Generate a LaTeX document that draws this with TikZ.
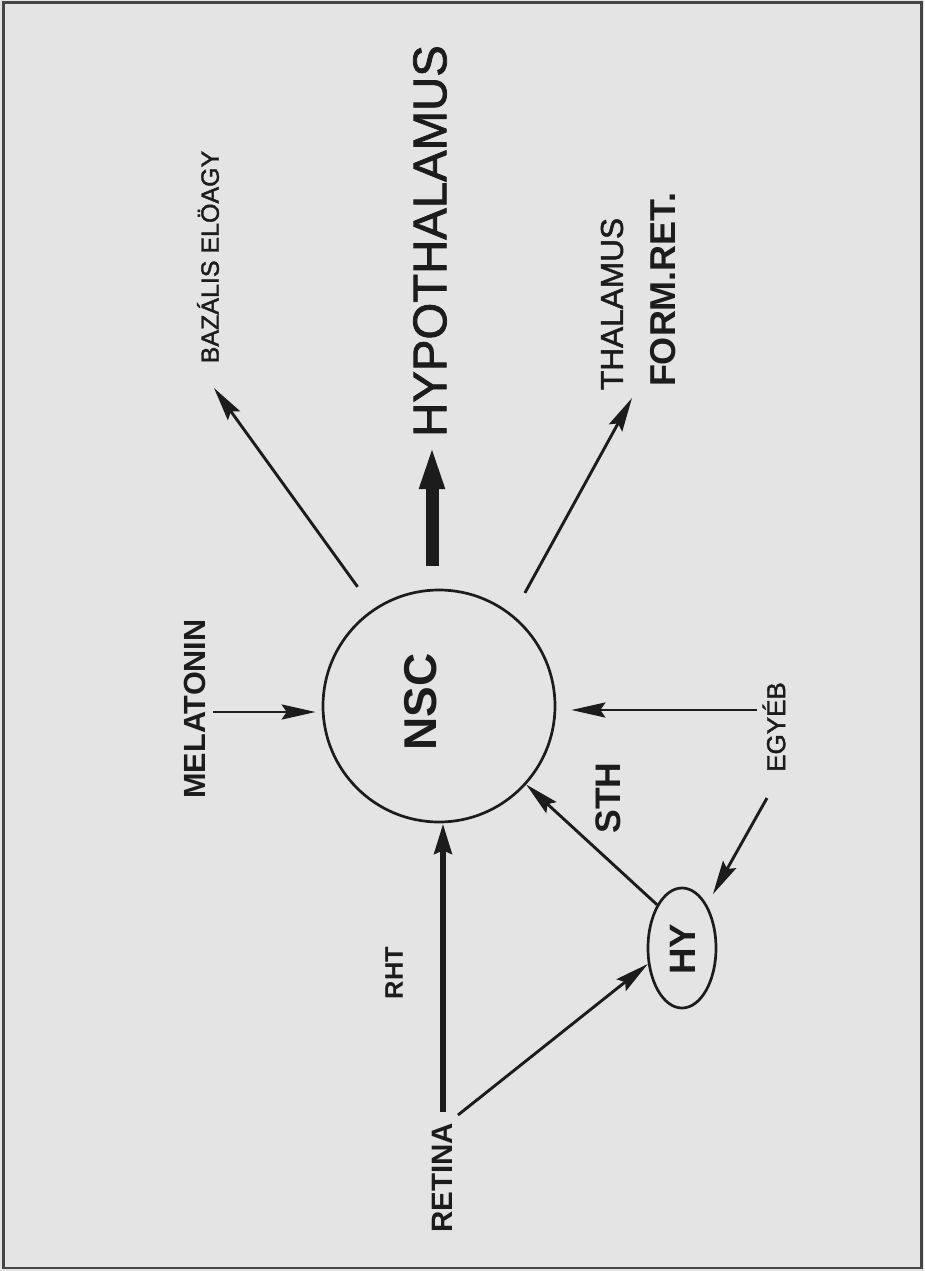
\documentclass[tikz,border=0pt]{standalone}
\usepackage{fontspec}
\setmainfont{Liberation Sans}
\newfontfamily\medfont{Liberation Sans}[FakeBold=1.6]
\usetikzlibrary{arrows.meta,shapes.geometric}
\definecolor{bg}{RGB}{228,228,228}
\definecolor{ink}{RGB}{28,28,28}
\definecolor{framec}{RGB}{70,70,70}
\begin{document}
\begin{tikzpicture}[x=1pt,y=-1pt,
  lbl/.style={text=ink, rotate=90, inner sep=0pt, anchor=center},
  thinarrow/.style={draw=ink, line width=2.9pt, -{Stealth[length=34pt,width=15pt,inset=5pt]}},
  bigarrow/.style={draw=ink, line width=13pt, -{Triangle[length=46pt,width=22pt]}},
  rhtarrow/.style={draw=ink, line width=6.5pt, -{Stealth[length=30pt,width=17pt,inset=3pt]}},
  outline/.style={draw=ink, line width=2.7pt, inner sep=0pt}]
\fill[bg] (0,0) rectangle (924,1271);
\useasboundingbox (0,0) rectangle (924,1271);
\draw[framec, line width=2.5pt] (3.5,2.5) rectangle (921.5,1268);

% shapes
\node[circle, outline, minimum size=232pt] (nsc) at (439,706) {};
\node[ellipse, outline, minimum width=68pt, minimum height=120pt] (hy) at (682,948) {};

% labels
\node[lbl, font=\medfont\fontsize{47.3}{50}\selectfont] (hypo) at (430,241) {HYPOTHALAMUS};
\node[lbl, font=\medfont\fontsize{25}{28}\selectfont] (baz) at (208,257) {BAZÁLIS ELÖAGY};
\node[lbl, font=\medfont\fontsize{31.6}{34}\selectfont] (thal) at (612,304) {THALAMUS};
\node[lbl, font=\bfseries\fontsize{36}{40}\selectfont] (form) at (663,290) {FORM.RET.};
\node[lbl, font=\bfseries\fontsize{30.6}{34}\selectfont] (mel) at (195,709) {MELATONIN};
\node[lbl, font=\bfseries\fontsize{46}{50}\selectfont] (nsctext) at (421,702) {NSC};
\node[lbl, font=\medfont\fontsize{26}{29}\selectfont] (egyeb) at (774,727) {EGYÉB};
\node[lbl, font=\bfseries\fontsize{35.5}{39}\selectfont] (sth) at (608,798) {STH};
\node[lbl, font=\bfseries\fontsize{36.7}{40}\selectfont] (hytext) at (683,949) {HY};
\node[lbl, font=\bfseries\fontsize{25.5}{29}\selectfont] (rht) at (394,973) {RHT};
\node[lbl, font=\bfseries\fontsize{29.5}{33}\selectfont] (retina) at (442,1178) {RETINA};

% free ends
\coordinate (melS) at (213,712);
\coordinate (egS) at (757,710);
\coordinate (bazT) at (214,388);
\coordinate (thalT) at (632,398);
\coordinate (hypT) at (432,443);
\coordinate (egyS) at (767,798);
\coordinate (retS) at (443,1112);
\coordinate (retS2) at (458,1115);

% connectors
\draw[thinarrow, shorten >=6pt] (melS) -- (nsc.west |- melS);
\draw[thinarrow, shorten >=15pt] (egS) -- (nsc.east |- egS);
\draw[thinarrow, shorten <=27pt] (nsc.124.5) -- (bazT);
\draw[thinarrow, shorten <=25pt] (nsc.51.6) -- (thalT);
\draw[bigarrow, shorten <=23pt] (nsc.north -| hypT) -- (hypT);
\draw[thinarrow] (hy.120) -- (nsc.-42);
\draw[thinarrow, shorten >=12pt] (egyS) -- (hy.60);
\draw[thinarrow] (retS2) -- (hy.205);
\draw[rhtarrow] (retS) -- (nsc.south -| retS);
\end{tikzpicture}
\end{document}
